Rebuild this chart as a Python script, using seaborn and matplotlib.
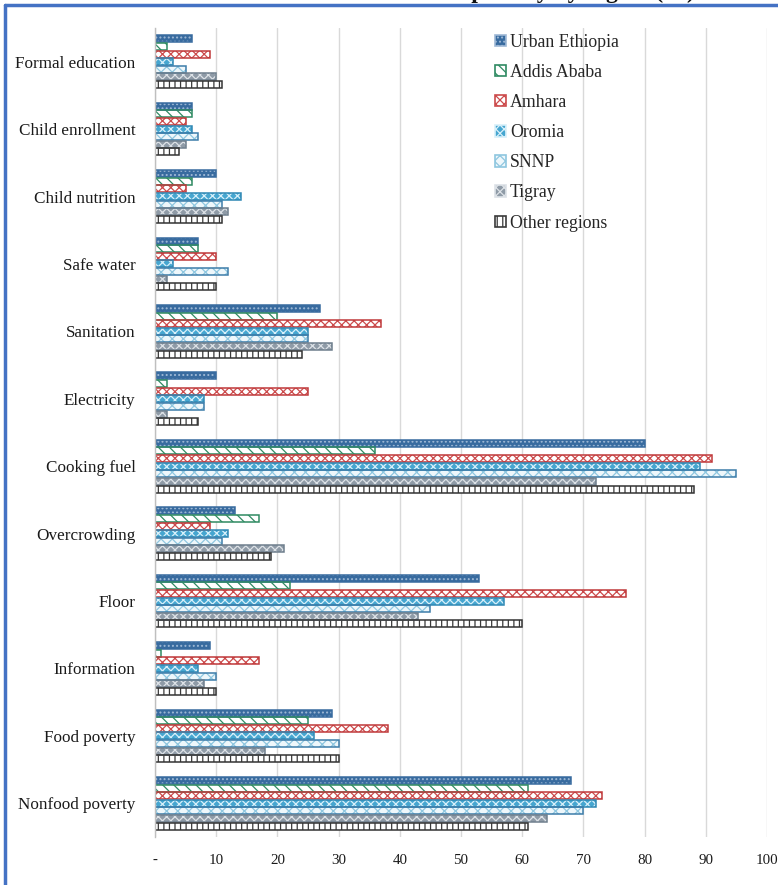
import matplotlib
matplotlib.use("Agg")
import matplotlib.pyplot as plt
from matplotlib.patches import Rectangle, Patch
from matplotlib.lines import Line2D
import seaborn as sns
import pandas as pd

categories = ["Formal education", "Child enrollment", "Child nutrition", "Safe water",
              "Sanitation", "Electricity", "Cooking fuel", "Overcrowding", "Floor",
              "Information", "Food poverty", "Nonfood poverty"]
regions = ["Urban Ethiopia", "Addis Ababa", "Amhara", "Oromia", "SNNP", "Tigray", "Other regions"]

urban_ethiopia = [6, 6, 10, 7, 27, 10, 80, 13, 53, 9, 29, 68]
addis_ababa = [2, 6, 6, 7, 20, 2, 36, 17, 22, 1, 25, 61]
amhara = [9, 5, 5, 10, 37, 25, 91, 9, 77, 17, 38, 73]
oromia = [3, 6, 14, 3, 25, 8, 89, 12, 57, 7, 26, 72]
snnp = [5, 7, 11, 12, 25, 8, 95, 11, 45, 10, 30, 70]
tigray = [10, 5, 12, 2, 29, 2, 72, 21, 43, 8, 18, 64]
other_regions = [11, 4, 11, 10, 24, 7, 88, 19, 60, 10, 30, 61]

x_ticks = [0, 10, 20, 30, 40, 50, 60, 70, 80, 90, 100]
x_tick_labels = ["-", "10", "20", "30", "40", "50", "60", "70", "80", "90", "100"]

series = [urban_ethiopia, addis_ababa, amhara, oromia, snnp, tigray, other_regions]
rows = []
for reg, vals in zip(regions, series):
    for cat, v in zip(categories, vals):
        rows.append({"category": cat, "region": reg, "value": v})
df = pd.DataFrame(rows)

# fill, hatch colour, hatch pattern, outline per region
styles = {
    "Urban Ethiopia": ("#386b9f", "#9fb9d6", "....", "#386b9f"),
    "Addis Ababa": ("#ffffff", "#2f8a62", "\\\\\\", "#2f8a62"),
    "Amhara": ("#ffffff", "#cc4b4c", "xxxx", "#c0393b"),
    "Oromia": ("#46a6d0", "#d8f0fa", "xxxx", "#2f88b4"),
    "SNNP": ("#eef7fb", "#8ec6df", "xxx", "#3d7daa"),
    "Tigray": ("#8f9ba7", "#dde2e7", "xxxx", "#6f7f8d"),
    "Other regions": ("#ffffff", "#3a3a3a", "|||", "#333333"),
}

sns.set_theme(style="white")
plt.rcParams["font.family"] = ["Liberation Serif", "DejaVu Serif"]
plt.rcParams["hatch.linewidth"] = 0.9

fig = plt.figure(figsize=(7.78, 8.85), dpi=100)
ax = fig.add_axes([155 / 778, 48 / 885, 612 / 778, 809 / 885])

sns.barplot(data=df, x="value", y="category", hue="region", orient="h",
            order=categories, hue_order=regions, width=0.79, gap=0.08,
            ax=ax, legend=False, errorbar=None)

for reg, container in zip(regions, ax.containers):
    fill, hcol, hatch, edge = styles[reg]
    for p in container:
        p.set_facecolor(fill)
        p.set_edgecolor(hcol)
        p.set_hatch(hatch)
        p.set_linewidth(0)
        x0, y0 = p.get_xy()
        ax.add_patch(Rectangle((x0, y0), p.get_width(), p.get_height(),
                               fill=False, edgecolor=edge, linewidth=1.1, zorder=p.get_zorder() + 0.1))

ax.set_xlim(0, 100)
ax.set_xticks(x_ticks)
ax.set_xticklabels(x_tick_labels, fontsize=10.8)
ax.set_xlabel("")
ax.set_ylabel("")
ax.tick_params(axis="y", labelsize=12.3, pad=14, length=0)
ax.tick_params(axis="x", pad=12, length=0)
for lab in ax.get_yticklabels() + ax.get_xticklabels():
    lab.set_color("#1a1a1a")

ax.grid(axis="x", color="#d9d9d9", linewidth=1)
ax.set_axisbelow(True)
for s in ["top", "right", "bottom"]:
    ax.spines[s].set_visible(False)
ax.spines["left"].set_color("#bfbfbf")
ax.spines["left"].set_linewidth(1)

handles = []
for reg in regions:
    fill, hcol, hatch, edge = styles[reg]
    handles.append(Patch(facecolor=fill, edgecolor=hcol, hatch=hatch, linewidth=1.2))
ax.legend(handles, regions, loc="upper left", bbox_to_anchor=(0.556, 0.993),
          frameon=False, fontsize=12.8, handlelength=0.62, handleheight=0.62,
          handletextpad=0.2, labelspacing=0.74, borderpad=0, borderaxespad=0)

# page border
border = "#4472c4"
fig.add_artist(Line2D([4.5 / 778, 4.5 / 778], [0, 1 - 5 / 885], color=border, lw=2.5, transform=fig.transFigure))
fig.add_artist(Line2D([4.5 / 778, 1.0], [1 - 5 / 885, 1 - 5 / 885], color=border, lw=2.5, transform=fig.transFigure))

fig.text(695 / 778, 1 + 2.5 / 885, "Multidimensional poverty by region (%)", ha="right",
         va="baseline", fontsize=17, fontweight="bold", color="#111111")

fig.savefig("out.png", dpi=100, facecolor="white")
